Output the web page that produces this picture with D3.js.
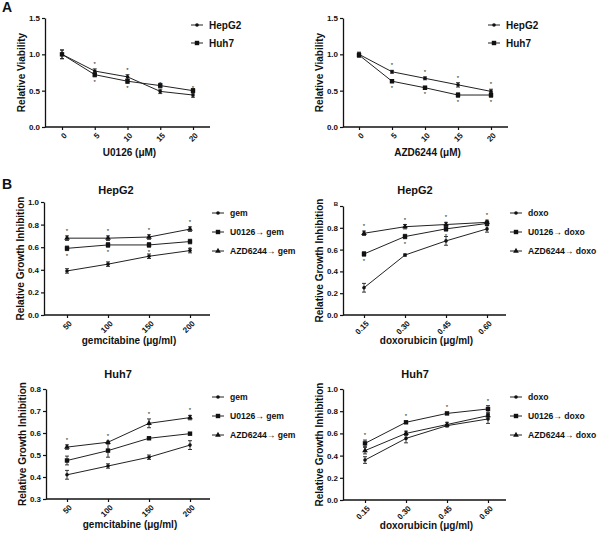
<!DOCTYPE html>
<html><head><meta charset="utf-8">
<script src="https://cdn.jsdelivr.net/npm/d3@7"></script>
<style>body{margin:0;background:#fff}svg{display:block}text{font-family:"Liberation Sans",Arial,sans-serif;fill:#111}</style>
</head><body>
<svg id="c" width="600" height="535"></svg>
<script>
// ---------- DATA ----------
const doseA = [0, 5, 10, 15, 20];
const doseATicks = ["0", "5", "10", "15", "20"];
const u0126HepG2 = [1.00, 0.77, 0.69, 0.49, 0.44];
const u0126Huh7  = [1.00, 0.72, 0.63, 0.57, 0.50];
const u0126Err   = [0.06, 0.03, 0.03, 0.03, 0.03];
const azdHepG2   = [1.00, 0.76, 0.67, 0.58, 0.49];
const azdHuh7    = [0.99, 0.63, 0.54, 0.44, 0.44];
const azdErr     = [0.03, 0.02, 0.02, 0.03, 0.03];

const gemDoses  = ["50", "100", "150", "200"];
const doxoDoses = ["0.15", "0.30", "0.45", "0.60"];

const hepG2Gem       = [0.39, 0.45, 0.52, 0.57];
const hepG2U0126Gem  = [0.59, 0.62, 0.62, 0.65];
const hepG2AzdGem    = [0.68, 0.68, 0.69, 0.76];
const hepG2Doxo      = [0.25, 0.55, 0.68, 0.79];
const hepG2U0126Doxo = [0.56, 0.72, 0.79, 0.84];
const hepG2AzdDoxo   = [0.75, 0.81, 0.83, 0.85];

const huh7Gem        = [0.41, 0.45, 0.49, 0.545];
const huh7U0126Gem   = [0.475, 0.52, 0.576, 0.597];
const huh7AzdGem     = [0.536, 0.558, 0.644, 0.67];
const huh7Doxo       = [0.36, 0.555, 0.67, 0.73];
const huh7U0126Doxo  = [0.51, 0.70, 0.78, 0.82];
const huh7AzdDoxo    = [0.445, 0.60, 0.68, 0.76];

const errB = [0.02, 0.02, 0.02, 0.02];

const svg = d3.select("#c");

function marker(g, shape, x, y) {
  if (shape === "circle") g.append("circle").attr("cx", x).attr("cy", y).attr("r", 1.8).attr("fill", "#111");
  else if (shape === "square") g.append("rect").attr("x", x - 2.2).attr("y", y - 2.2).attr("width", 4.4).attr("height", 4.4).attr("fill", "#111");
  else g.append("path").attr("d", d3.symbol(d3.symbolTriangle, 14)()).attr("transform", `translate(${x},${y})`).attr("fill", "#111");
}

function panel(o) {
  const g = svg.append("g");
  const y = d3.scaleLinear().domain(o.yDomain).range([o.yBottom, o.yTop]);
  const x = o.xScale;
  // y axis
  const ya = g.append("g").attr("transform", `translate(${o.axX},0)`)
    .call(d3.axisLeft(y).tickValues(o.yTicks).tickSize(3).tickSizeOuter(0).tickFormat(o.yFmt || d3.format(".1f")));
  ya.select(".domain").attr("stroke", "#111").attr("stroke-width", 1.3);
  ya.selectAll(".tick line").attr("stroke", "#111").attr("stroke-width", 1.2);
  ya.selectAll(".tick text").attr("font-size", 8).attr("font-weight", "bold").attr("dx", 1);
  if (o.topLabelB) {
    ya.selectAll(".tick").filter(d => d === o.yDomain[1]).select("text").attr("font-size", 6).attr("dy", "-0.1em");
  }
  // x axis
  const xa = g.append("g").attr("transform", `translate(0,${o.yBottom})`)
    .call(d3.axisBottom(x).tickValues(o.xTickValues).tickSize(3).tickSizeOuter(0).tickFormat((d, i) => o.xTickLabels[i]));
  xa.select(".domain").remove();
  xa.append("line").attr("x1", o.axX).attr("x2", o.xEnd).attr("y1", 0).attr("y2", 0).attr("stroke", "#111").attr("stroke-width", 1.3);
  xa.selectAll(".tick line").attr("stroke", "#111").attr("stroke-width", 1.2);
  xa.selectAll(".tick text").attr("font-size", 8).attr("font-weight", "bold")
    .attr("text-anchor", "end").attr("x", 0).attr("y", 0).attr("dy", "0.35em")
    .attr("transform", "translate(3,7) rotate(-45)");
  // titles
  g.append("text").attr("x", (o.axX + o.xEnd) / 2 + 2).attr("y", o.yBottom + 29).attr("text-anchor", "middle")
    .attr("font-size", 10).attr("font-weight", "bold").text(o.xTitle);
  g.append("text").attr("transform", `translate(${o.axX - 20},${(o.yTop + o.yBottom) / 2}) rotate(-90)`)
    .attr("text-anchor", "middle").attr("font-size", 10).attr("font-weight", "bold").text(o.yTitle);
  if (o.title) g.append("text").attr("x", o.axX + 72).attr("y", o.titleY).attr("text-anchor", "middle")
    .attr("font-size", 11).attr("font-weight", "bold").text(o.title);
  // series
  const line = d3.line().x((d, i) => x(o.xValues[i])).y(d => y(d));
  o.series.forEach((s, si) => {
    const sg = g.append("g");
    sg.append("path").datum(s.values).attr("d", line).attr("fill", "none").attr("stroke", "#222").attr("stroke-width", 1);
    s.values.forEach((v, i) => {
      const cx = x(o.xValues[i]), e = s.err[i];
      sg.append("line").attr("x1", cx).attr("x2", cx).attr("y1", y(v - e)).attr("y2", y(v + e)).attr("stroke", "#222").attr("stroke-width", 0.9);
      [v - e, v + e].forEach(b => sg.append("line").attr("x1", cx - 2).attr("x2", cx + 2).attr("y1", y(b)).attr("y2", y(b)).attr("stroke", "#222").attr("stroke-width", 0.9));
      marker(sg, s.shape, cx, y(v));
      if (s.star && i >= (o.starFrom || 0)) {
        const sy = s.star === "above" ? y(v + e) - 3 : y(v - e) + 7;
        sg.append("text").attr("x", cx).attr("y", sy).attr("text-anchor", "middle").attr("font-size", 6).attr("fill", "#666").text("*");
      }
    });
    // legend
    const ly = o.legY + si * o.legGap;
    g.append("line").attr("x1", o.legX).attr("x2", o.legX + 12).attr("y1", ly).attr("y2", ly).attr("stroke", "#222").attr("stroke-width", 1);
    marker(g, s.shape, o.legX + 6, ly);
    g.append("text").attr("x", o.legX + 18).attr("y", ly).attr("dy", "0.35em").attr("font-size", o.legFont || 8.6)
      .attr("font-weight", "bold").text(s.name);
  });
}

// Panel A left
panel({
  axX: 45, xEnd: 210, yTop: 18, yBottom: 127, yDomain: [0, 1.5], yTicks: [0, 0.5, 1.0, 1.5],
  xScale: d3.scaleLinear().domain([0, 20]).range([62, 193]), xValues: doseA, xTickValues: doseA, xTickLabels: doseATicks,
  xTitle: "U0126 (μM)", yTitle: "Relative Viability", starFrom: 1,
  legX: 191, legY: 25, legGap: 18, legFont: 10,
  series: [
    { name: "HepG2", shape: "circle", values: u0126HepG2, err: u0126Err, star: "above" },
    { name: "Huh7", shape: "square", values: u0126Huh7, err: u0126Err, star: "below" }
  ]
});
// Panel A right
panel({
  axX: 343, xEnd: 508, yTop: 18, yBottom: 127, yDomain: [0, 1.5], yTicks: [0, 0.5, 1.0, 1.5],
  xScale: d3.scaleLinear().domain([0, 20]).range([359, 491]), xValues: doseA, xTickValues: doseA, xTickLabels: doseATicks,
  xTitle: "AZD6244 (μM)", yTitle: "Relative Viability", starFrom: 1,
  legX: 488, legY: 25, legGap: 18, legFont: 10,
  series: [
    { name: "HepG2", shape: "circle", values: azdHepG2, err: azdErr, star: "above" },
    { name: "Huh7", shape: "square", values: azdHuh7, err: azdErr, star: "below" }
  ]
});
// HepG2 gem
panel({
  axX: 44, xEnd: 210, yTop: 202, yBottom: 315, yDomain: [0, 1.0], yTicks: [0, 0.2, 0.4, 0.6, 0.8, 1.0],
  xScale: d3.scalePoint().domain(gemDoses).range([67, 190]), xValues: gemDoses, xTickValues: gemDoses, xTickLabels: gemDoses,
  xTitle: "gemcitabine (μg/ml)", yTitle: "Relative Growth Inhibition", title: "HepG2", titleY: 194,
  legX: 212, legY: 213, legGap: 19,
  series: [
    { name: "gem", shape: "circle", values: hepG2Gem, err: errB },
    { name: "U0126→ gem", shape: "square", values: hepG2U0126Gem, err: errB, star: "below" },
    { name: "AZD6244→ gem", shape: "triangle", values: hepG2AzdGem, err: errB, star: "above" }
  ]
});
// HepG2 doxo
panel({
  axX: 343, xEnd: 506, yTop: 206, yBottom: 315, yDomain: [0, 1.0], yTicks: [0, 0.2, 0.4, 0.6, 0.8, 1.0],
  yFmt: d => d === 1 ? "B" : d3.format(".1f")(d), topLabelB: true,
  xScale: d3.scalePoint().domain(doxoDoses).range([364, 487]), xValues: doxoDoses, xTickValues: doxoDoses, xTickLabels: doxoDoses,
  xTitle: "doxorubicin (μg/ml)", yTitle: "Relative Growth Inhibition", title: "HepG2", titleY: 194,
  legX: 510, legY: 213, legGap: 19,
  series: [
    { name: "doxo", shape: "circle", values: hepG2Doxo, err: [0.04, 0.01, 0.04, 0.03] },
    { name: "U0126→ doxo", shape: "square", values: hepG2U0126Doxo, err: errB, star: "below" },
    { name: "AZD6244→ doxo", shape: "triangle", values: hepG2AzdDoxo, err: errB, star: "above" }
  ]
});
// Huh7 gem
panel({
  axX: 46, xEnd: 210, yTop: 389, yBottom: 499, yDomain: [0.3, 0.8], yTicks: [0.3, 0.4, 0.5, 0.6, 0.7, 0.8],
  xScale: d3.scalePoint().domain(gemDoses).range([67, 190]), xValues: gemDoses, xTickValues: gemDoses, xTickLabels: gemDoses,
  xTitle: "gemcitabine (μg/ml)", yTitle: "Relative Growth Inhibition", title: "Huh7", titleY: 378,
  legX: 212, legY: 397, legGap: 19,
  series: [
    { name: "gem", shape: "circle", values: huh7Gem, err: [0.02, 0.01, 0.01, 0.02] },
    { name: "U0126→ gem", shape: "square", values: huh7U0126Gem, err: [0.02, 0.03, 0.005, 0.005] },
    { name: "AZD6244→ gem", shape: "triangle", values: huh7AzdGem, err: [0.01, 0.005, 0.02, 0.01], star: "above" }
  ]
});
// Huh7 doxo
panel({
  axX: 343, xEnd: 506, yTop: 389, yBottom: 500, yDomain: [0, 1.0], yTicks: [0, 0.2, 0.4, 0.6, 0.8, 1.0],
  xScale: d3.scalePoint().domain(doxoDoses).range([365, 488]), xValues: doxoDoses, xTickValues: doxoDoses, xTickLabels: doxoDoses,
  xTitle: "doxorubicin (μg/ml)", yTitle: "Relative Growth Inhibition", title: "Huh7", titleY: 378,
  legX: 510, legY: 397, legGap: 19,
  series: [
    { name: "doxo", shape: "circle", values: huh7Doxo, err: [0.03, 0.04, 0.01, 0.04] },
    { name: "U0126→ doxo", shape: "square", values: huh7U0126Doxo, err: [0.03, 0.01, 0.01, 0.03], star: "above" },
    { name: "AZD6244→ doxo", shape: "triangle", values: huh7AzdDoxo, err: [0.03, 0.02, 0.02, 0.02] }
  ]
});

// panel letters
svg.append("text").attr("x", 2).attr("y", 12).attr("font-size", 14).attr("font-weight", "bold").text("A");
svg.append("text").attr("x", 2).attr("y", 189).attr("font-size", 14).attr("font-weight", "bold").text("B");
</script>
</body></html>
